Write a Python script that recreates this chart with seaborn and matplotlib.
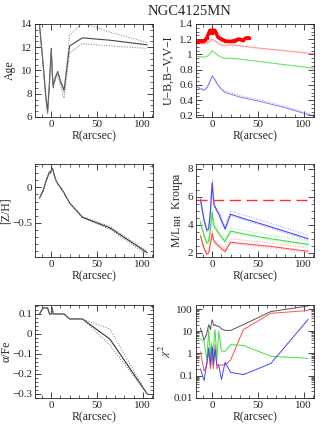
import numpy as np
import seaborn as sns
import matplotlib.pyplot as plt
from matplotlib.ticker import MultipleLocator, FuncFormatter, FixedLocator, LogLocator, NullFormatter

sns.set_theme(style='ticks')
plt.rcParams['font.family'] = ['Liberation Serif', 'DejaVu Serif']
plt.rcParams['mathtext.fontset'] = 'stix'

# radial grid of the fits
R = [-13, -9, -6, -4, -2, -1, 0, 1, 2, 3, 5, 7, 10, 14, 20, 34, 64, 105]

age = [14.0, 10.6, 7.8, 6.5, 9.0, 10.5, 11.9, 10.0, 8.6, 9.0, 9.5, 9.9, 9.1, 8.3, 12.1, 12.8, 12.6, 12.2]
age_hi = [14.0, 10.4, 7.6, 6.3, 8.8, 10.4, 11.8, 9.8, 8.7, 9.2, 9.6, 9.9, 9.0, 8.1, 13.0, 14.1, 13.3, 12.4]
age_lo = [13.9, 10.5, 7.5, 6.2, 8.9, 10.3, 11.7, 9.7, 8.4, 8.8, 9.3, 9.6, 8.7, 7.6, 11.5, 12.3, 12.1, 11.9]

zh = [-0.15, -0.05, 0.08, 0.15, 0.22, 0.20, 0.24, 0.27, 0.24, 0.18, 0.10, 0.05, 0.0, -0.08, -0.22, -0.42, -0.57, -0.92]
zh_hi = [-0.15, -0.05, 0.08, 0.15, 0.22, 0.20, 0.24, 0.27, 0.24, 0.18, 0.10, 0.05, 0.0, -0.08, -0.22, -0.41, -0.55, -0.90]
zh_lo = [-0.15, -0.05, 0.08, 0.15, 0.22, 0.20, 0.24, 0.27, 0.24, 0.18, 0.10, 0.05, 0.0, -0.08, -0.22, -0.43, -0.59, -0.95]

afe = [0.10, 0.13, 0.13, 0.13, 0.10, 0.10, 0.10, 0.13, 0.10, 0.10, 0.10, 0.10, 0.10, 0.10, 0.075, 0.075, -0.025, -0.30]
afe_hi = [0.10, 0.13, 0.13, 0.13, 0.10, 0.10, 0.10, 0.13, 0.10, 0.10, 0.10, 0.10, 0.10, 0.10, 0.075, 0.075, 0.025, -0.30]
afe_lo = [0.10, 0.13, 0.13, 0.13, 0.10, 0.10, 0.10, 0.13, 0.10, 0.10, 0.10, 0.10, 0.10, 0.10, 0.075, 0.075, -0.055, -0.30]

ml_b = [5.8, 4.3, 3.6, 3.7, 5.0, 6.2, 7.0, 6.0, 5.4, 5.3, 5.0, 4.8, 4.3, 3.7, 4.75, 4.45, 3.85, 3.0]
ml_g = [4.2, 3.2, 2.7, 2.8, 3.7, 4.4, 4.9, 4.2, 3.9, 3.8, 3.6, 3.4, 3.1, 2.8, 3.55, 3.35, 3.0, 2.6]
ml_r = [3.2, 2.3, 1.9, 2.0, 2.7, 3.1, 3.4, 3.0, 2.8, 2.75, 2.6, 2.5, 2.3, 2.1, 2.75, 2.65, 2.45, 2.1]
ml_ref = 5.75

chi_k = [14, 4, 8, 20, 12, 25, 33, 22, 18, 20, 17, 17, 13, 11, 11, 20, 78, 140]
chi_r = [1.2, 0.16, 0.3, 1.2, 0.2, 0.6, 1.6, 0.2, 0.5, 2.5, 0.2, 0.3, 0.3, 0.3, 0.5, 12, 65, 87]
chi_g = [4.5, 3.5, 0.5, 12, 0.6, 3, 1.0, 0.5, 5, 12, 0.5, 10, 1.3, 1.25, 2.5, 2.3, 0.75, 0.6]
chi_b = [0.2, 0.06, 0.4, 1.8, 0.3, 1.2, 2.0, 0.3, 0.8, 1.5, 0.3, 0.3, 0.066, 0.4, 0.14, 0.11, 0.35, 35]
chi_ticks = [0.01, 0.1, 1, 10, 100]

# colour profiles: models and observed U-B
R_col = [-17, -13, -9, -6, -3, 0, 3, 6, 10, 14, 20, 30, 50, 80, 111]
col_r = [1.155, 1.15, 1.145, 1.15, 1.17, 1.20, 1.18, 1.15, 1.125, 1.12, 1.125, 1.115, 1.085, 1.05, 1.01]
col_g = [0.975, 0.97, 0.965, 0.975, 1.0, 1.05, 1.02, 0.99, 0.965, 0.95, 0.95, 0.94, 0.91, 0.865, 0.82]
col_b = [0.57, 0.55, 0.53, 0.56, 0.63, 0.72, 0.66, 0.60, 0.54, 0.50, 0.48, 0.44, 0.39, 0.30, 0.19]
col_b_hi = [0.58, 0.56, 0.54, 0.57, 0.64, 0.72, 0.67, 0.61, 0.55, 0.52, 0.50, 0.46, 0.41, 0.32, 0.20]

R_obs = [-20, -18, -16, -14, -12, -10, -8, -6, -4, -3, -2, -1, 0, 1, 2, 3, 4, 6, 8, 10,
         12, 14, 16, 18, 20, 22, 24, 26, 28, 30, 32, 34, 36, 38, 40]
obs_r = [1.16, 1.16, 1.165, 1.17, 1.17, 1.18, 1.19, 1.22, 1.28, 1.31, 1.32, 1.30, 1.28, 1.30,
         1.32, 1.31, 1.28, 1.23, 1.21, 1.20, 1.19, 1.18, 1.175, 1.17, 1.17, 1.175, 1.18,
         1.19, 1.20, 1.20, 1.19, 1.19, 1.21, 1.22, 1.22]

RED, GRN, BLU = '#ff5050', '#44dd44', '#4848ee'
fs = 8

fig = plt.figure(figsize=(3.32, 4.43), dpi=100)
xl, xr, w = 0.105, 0.590, 0.355
rows = [0.736, 0.420, 0.1016]
h = 0.21


def style(ax, ylab, ymaj, ymin, ylim, labx, fmt=None):
    ax.set_xlim(-18, 111)
    ax.set_ylim(*ylim)
    ax.xaxis.set_major_locator(MultipleLocator(50))
    ax.xaxis.set_minor_locator(MultipleLocator(10))
    if ymaj is not None:
        ax.yaxis.set_major_locator(MultipleLocator(ymaj))
        ax.yaxis.set_minor_locator(MultipleLocator(ymin))
    if fmt is not None:
        ax.yaxis.set_major_formatter(fmt)
    ax.tick_params(which='both', direction='in', top=True, right=True, labelsize=fs, pad=2)
    ax.tick_params(which='major', length=4, width=0.6)
    ax.tick_params(which='minor', length=2, width=0.5)
    for s in ax.spines.values():
        s.set_linewidth(0.6)
    ax.set_xlabel('R(arcsec)', fontsize=fs + 0.5, labelpad=1)
    ax.set_ylabel(ylab, fontsize=fs + 0.5, va='center')
    ax.yaxis.set_label_coords(labx, 0.5)


gfmt = FuncFormatter(lambda v, p: ('%g' % v).replace('-', '\u2212'))

# Age
ax = fig.add_axes([xl, rows[0], w, h])
sns.lineplot(x=R, y=age, ax=ax, color='#444444', lw=0.8)
sns.lineplot(x=R, y=age_hi, ax=ax, color='#777777', lw=0.7, linestyle=':')
sns.lineplot(x=R, y=age_lo, ax=ax, color='#777777', lw=0.7, linestyle=':')
style(ax, 'Age', 2, 0.5, (6, 14), -0.21)

# colours
ax = fig.add_axes([xr, rows[0], w, h])
sns.lineplot(x=R_col, y=col_r, ax=ax, color=RED, lw=0.7, alpha=0.6)
sns.lineplot(x=R_col, y=[v - 0.01 for v in col_r], ax=ax, color=RED, lw=0.7, alpha=0.5, linestyle=':')
sns.lineplot(x=R_col, y=col_g, ax=ax, color=GRN, lw=0.7, alpha=0.8)
sns.lineplot(x=R_col, y=[v - 0.005 for v in col_g], ax=ax, color=GRN, lw=0.7, alpha=0.6, linestyle=':')
sns.lineplot(x=R_col, y=col_b, ax=ax, color=BLU, lw=0.7, alpha=0.7)
sns.lineplot(x=R_col, y=col_b_hi, ax=ax, color=BLU, lw=0.7, alpha=0.6, linestyle=':')
sns.lineplot(x=R_obs, y=obs_r, ax=ax, color='#ff0000', lw=2.4, marker='o', ms=1.8, mec='#ff0000')
style(ax, 'U\u2212B,B\u2212V,V\u2212I', 0.2, 0.05, (0.18, 1.4), -0.23, gfmt)

# [Z/H]
ax = fig.add_axes([xl, rows[1], w, h])
sns.lineplot(x=R, y=zh, ax=ax, color='#333333', lw=0.8)
sns.lineplot(x=R, y=zh_hi, ax=ax, color='#777777', lw=0.7, linestyle=':')
sns.lineplot(x=R, y=zh_lo, ax=ax, color='#777777', lw=0.7, linestyle=':')
style(ax, '[Z/H]', 0.5, 0.1, (-0.98, 0.33), -0.245, gfmt)

# M/L
ax = fig.add_axes([xr, rows[1], w, h])
for vals, c in [(ml_b, BLU), (ml_g, GRN), (ml_r, RED)]:
    sns.lineplot(x=R, y=vals, ax=ax, color=c, lw=0.8)
    sns.lineplot(x=R, y=[v + (0.25 if r >= 20 else 0.15) for v, r in zip(vals, R)], ax=ax,
                 color=c, lw=0.7, alpha=0.6, linestyle=':')
    sns.lineplot(x=R, y=[v - 0.1 for v in vals], ax=ax,
                 color=c, lw=0.7, alpha=0.6, linestyle=':')
ax.axhline(ml_ref, color='#ff3030', lw=1.0, dashes=(8, 4))
style(ax, 'M/L$_{\\rm BH}$  Kroupa', 2, 0.5, (1.7, 8.35), -0.155)

# alpha/Fe
ax = fig.add_axes([xl, rows[2], w, h])
sns.lineplot(x=R, y=afe, ax=ax, color='#333333', lw=0.8)
sns.lineplot(x=R, y=afe_hi, ax=ax, color='#777777', lw=0.7, linestyle=':')
sns.lineplot(x=R, y=afe_lo, ax=ax, color='#777777', lw=0.7, linestyle=':')
style(ax, '\u03b1/Fe', 0.1, 0.02, (-0.32, 0.145), -0.24, gfmt)

# chi^2
ax = fig.add_axes([xr, rows[2], w, h])
ax.set_yscale('log')
sns.lineplot(x=R, y=chi_k, ax=ax, color='#555555', lw=0.7)
sns.lineplot(x=R, y=chi_r, ax=ax, color=RED, lw=0.7)
sns.lineplot(x=R, y=chi_g, ax=ax, color=GRN, lw=0.7)
sns.lineplot(x=R, y=chi_b, ax=ax, color=BLU, lw=0.7)
style(ax, '$\\chi^2$', None, None, (0.0097, 155), -0.26)
ax.yaxis.set_major_locator(FixedLocator(chi_ticks))
ax.yaxis.set_minor_locator(LogLocator(base=10, subs=np.arange(2, 10), numticks=20))
ax.yaxis.set_minor_formatter(NullFormatter())
ax.yaxis.set_major_formatter(gfmt)

fig.text(0.57, 0.973, 'NGC4125MN', ha='center', va='center', fontsize=10.5)

fig.savefig('out.png', dpi=100)
